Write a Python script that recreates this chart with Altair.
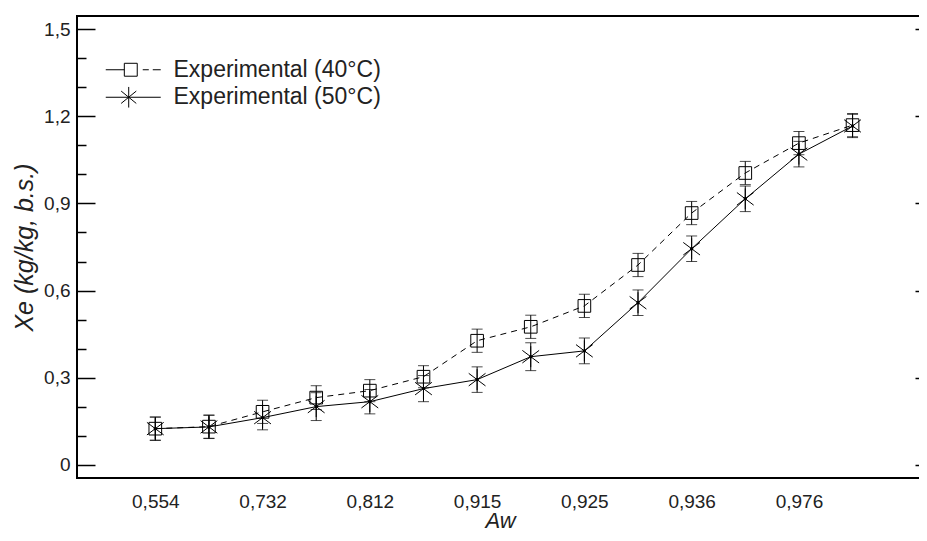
import altair as alt
import pandas as pd

# ---- data ----
x_pos = [0, 1, 2, 3, 4, 5, 6, 7, 8, 9, 10, 11, 12, 13]
x_tick_values = [0, 2, 4, 6, 8, 10, 12]
x_tick_labels = ["0,554", "0,732", "0,812", "0,915", "0,925", "0,936", "0,976"]

xe_40 = [0.124, 0.131, 0.182, 0.231, 0.255, 0.303, 0.427, 0.475, 0.547, 0.688, 0.867, 1.005, 1.108, 1.170]
xe_50 = [0.124, 0.130, 0.162, 0.200, 0.217, 0.262, 0.293, 0.372, 0.392, 0.558, 0.744, 0.916, 1.070, 1.167]
err_40 = [0.040, 0.040, 0.040, 0.041, 0.038, 0.038, 0.040, 0.040, 0.040, 0.040, 0.040, 0.040, 0.040, 0.040]
err_50 = [0.040, 0.040, 0.042, 0.048, 0.042, 0.045, 0.044, 0.048, 0.044, 0.044, 0.044, 0.044, 0.044, 0.040]

series_names = ["Experimental (40°C)", "Experimental (50°C)"]
y_major = [0, 0.3, 0.6, 0.9, 1.2, 1.5]
y_minor = [0.1, 0.2, 0.4, 0.5, 0.7, 0.8, 1.0, 1.1, 1.3, 1.4]

rows = []
for s, vals, errs in [(series_names[0], xe_40, err_40), (series_names[1], xe_50, err_50)]:
    for xv, yv, ev in zip(x_pos, vals, errs):
        rows.append({"series": s, "x": xv, "y": yv, "lo": yv - ev, "hi": yv + ev})
df = pd.DataFrame(rows)
df40 = df[df.series == series_names[0]]
df50 = df[df.series == series_names[1]]

FONT = "Liberation Sans"
TXT = "#222222"

X_SCALE = alt.Scale(domain=[-1.46, 14.5], nice=False, zero=False)
Y_SCALE = alt.Scale(domain=[-0.046, 1.546], nice=False, zero=False)

label_expr = "[" + ",".join("'%s'" % t for t in x_tick_labels) + "][datum.value / 2]"

x_axis = alt.Axis(values=x_tick_values, labelExpr=label_expr, ticks=False, tickSize=0,
                  domain=False, grid=False, labelFontSize=19, labelFont=FONT, labelColor=TXT,
                  labelPadding=14, labelOverlap=False, labelFlush=False,
                  title="Aw", titleFont=FONT, titleFontSize=22, titleFontStyle="italic",
                  titleFontWeight="normal", titleColor=TXT,
                  titleX=423, titleY=49, titleBaseline="alphabetic", titleAlign="center")

y_label_axis = alt.Axis(values=y_major,
                        labelExpr="datum.value == 0 ? '0' : replace(format(datum.value, '.1f'), '.', ',')",
                        ticks=False, tickSize=0, domain=False, grid=False,
                        labelFontSize=19, labelFont=FONT, labelColor=TXT, labelPadding=7,
                        title="Xe (kg/kg, b.s.)", titleFont=FONT, titleFontSize=25,
                        titleFontStyle="italic", titleFontWeight="normal", titleColor=TXT,
                        titlePadding=6)


def tick_axis(vals, orient, size):
    return alt.Axis(values=vals, orient=orient, offset=-size, tickSize=size, labels=False,
                    domain=False, grid=False, title=None, tickColor="black", tickWidth=1.5)


def X(axis=None):
    return alt.X("x:Q", scale=X_SCALE, axis=axis)


def Y(field="y", axis=None):
    return alt.Y(field + ":Q", scale=Y_SCALE, axis=axis)


ASTER = "M0,-1L0,1M-0.8,-0.6L0.8,0.6M-0.8,0.6L0.8,-0.6"
GLYPH_40 = ("M-2,0H-0.65M-0.65,-0.47H0.29V0.47H-0.65Z"
            "M0.69,0H1.13M1.42,0H2")
GLYPH_50 = "M-2,0H2M-0.33,-0.75V0.75M-0.88,-0.45L0.22,0.45M-0.88,0.45L0.22,-0.45"

line40 = alt.Chart(df40).mark_line(color="black", strokeWidth=1, strokeDash=[6, 5]).encode(
    x=X(x_axis), y=Y(axis=y_label_axis))
line50 = alt.Chart(df50).mark_line(color="black", strokeWidth=1).encode(
    x=X(), y=Y(axis=tick_axis(y_major, "left", 18)))
err = alt.Chart(df).mark_rule(color="black", strokeWidth=1).encode(
    x=X(), y=Y("lo", axis=tick_axis(y_minor, "left", 9)), y2="hi:Q")
cap_lo = alt.Chart(df).mark_tick(color="black", thickness=1, size=11, orient="horizontal").encode(
    x=X(), y=Y("lo", axis=tick_axis(y_major, "right", 18)))
cap_hi = alt.Chart(df).mark_tick(color="black", thickness=1, size=11, orient="horizontal").encode(
    x=X(), y=Y("hi", axis=tick_axis(y_minor, "right", 9)))
pts40 = alt.Chart(df40).mark_point(shape="square", size=160, filled=False, color="black",
                                   strokeWidth=1, opacity=1).encode(x=X(), y=Y())
pts50 = alt.Chart(df50).mark_point(shape=ASTER, size=440, filled=False, color="black",
                                   strokeWidth=1, opacity=1).encode(x=X(), y=Y())
dots50 = alt.Chart(df50).mark_circle(size=12, color="black", opacity=1).encode(x=X(), y=Y())

legend_layer = alt.Chart(df).mark_point(opacity=0, filled=False, color="black").encode(
    x=X(), y=Y(),
    shape=alt.Shape("series:N",
                    scale=alt.Scale(domain=series_names, range=[GLYPH_40, GLYPH_50]),
                    legend=alt.Legend(orient="none", legendX=41.75, legendY=39.25, title=None,
                                      symbolSize=756, symbolStrokeColor="black",
                                      symbolStrokeWidth=1, symbolOpacity=1,
                                      symbolFillColor="transparent",
                                      labelFont=FONT, labelFontSize=23, labelColor=TXT,
                                      labelOffset=25.75, padding=0, rowPadding=0.5,
                                      labelLimit=400)))

chart = alt.layer(line40, line50, err, cap_lo, cap_hi, pts40, pts50, dots50, legend_layer).resolve_scale(
    x="shared", y="shared").resolve_axis(x="independent", y="independent").properties(
    width=856, height=462,
    autosize=alt.AutoSizeParams(type="none"),
    padding={"left": 69, "top": 8, "right": -14, "bottom": 55},
).configure_view(stroke="black", strokeWidth=2)

chart.save("out.html", embed_options={"renderer": "svg", "actions": False})
